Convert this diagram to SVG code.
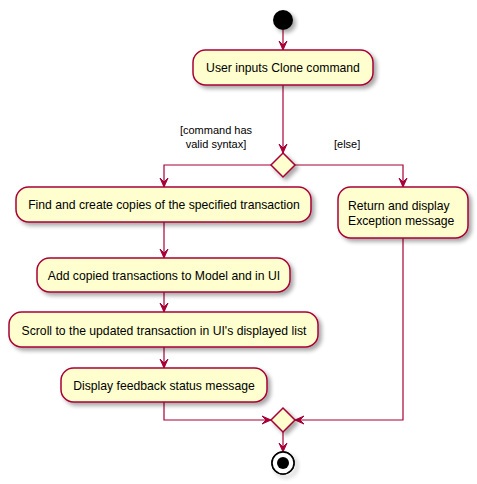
<svg xmlns="http://www.w3.org/2000/svg" width="477" height="484" viewBox="0 0 477 484">
<style>
.act{fill:#FEFECE;stroke:#A80036;stroke-width:1.5;filter:url(#sh)}
.t{font-family:"Liberation Sans",Arial,sans-serif;font-size:12.2px;fill:#000}
.lbl{font-family:"Liberation Sans",Arial,sans-serif;font-size:11px;fill:#000}
.c{fill:none;stroke:#A80036;stroke-width:1.2}
</style>
<defs>
<filter id="sh" x="-20%" y="-20%" width="150%" height="160%">
<feGaussianBlur in="SourceAlpha" stdDeviation="2"/>
<feOffset dx="3" dy="3" result="b"/>
<feComponentTransfer><feFuncA type="linear" slope="0.35"/></feComponentTransfer>
<feMerge><feMergeNode/><feMergeNode in="SourceGraphic"/></feMerge>
</filter>
<marker id="ah" viewBox="0 0 10 10" refX="9" refY="5" markerWidth="10" markerHeight="10" markerUnits="userSpaceOnUse" orient="auto">
<path d="M0,1 L9,5 L0,9 L4,5 Z" fill="#A80036" stroke="#A80036" stroke-width="1"/>
</marker>
</defs>
<g id="connectors">
<line class="c" x1="283" y1="30" x2="283" y2="50" marker-end="url(#ah)"/>
<line class="c" x1="283" y1="85" x2="283" y2="153" marker-end="url(#ah)"/>
<polyline class="c" points="271,165 164,165 164,187" marker-end="url(#ah)"/>
<polyline class="c" points="295,165 403,165 403,187" marker-end="url(#ah)"/>
<line class="c" x1="164" y1="222" x2="164" y2="258" marker-end="url(#ah)"/>
<line class="c" x1="164" y1="292" x2="164" y2="312" marker-end="url(#ah)"/>
<line class="c" x1="164" y1="347" x2="164" y2="368" marker-end="url(#ah)"/>
<polyline class="c" points="164,402 164,420 271,420" marker-end="url(#ah)"/>
<polyline class="c" points="403,238 403,420 295,420" marker-end="url(#ah)"/>
<line class="c" x1="283" y1="432" x2="283" y2="452" marker-end="url(#ah)"/>
<text class="lbl" x="216" y="134" text-anchor="middle">[command has</text>
<text class="lbl" x="216" y="148" text-anchor="middle">valid syntax]</text>
<text class="lbl" x="334" y="148">[else]</text>
</g>
<g id="start"><circle cx="283" cy="20" r="10" fill="#000" filter="url(#sh)"/></g>
<g id="userInputs"><rect class="act" x="193" y="50" width="180" height="35" rx="12.5"/><text class="t" x="283" y="72" text-anchor="middle">User inputs Clone command</text></g>
<g id="branch"><polygon class="act" points="283,153 295,165 283,177 271,165"/></g>
<g id="findCopies"><rect class="act" x="16" y="187" width="295" height="35" rx="12.5"/><text class="t" x="164" y="209" text-anchor="middle">Find and create copies of the specified transaction</text></g>
<g id="returnException"><rect class="act" x="338" y="187" width="130" height="51" rx="12.5"/><text class="t" x="348" y="210">Return and display</text><text class="t" x="348" y="225">Exception message</text></g>
<g id="addCopied"><rect class="act" x="37" y="258" width="253" height="34" rx="12.5"/><text class="t" x="164" y="280" text-anchor="middle">Add copied transactions to Model and in UI</text></g>
<g id="scroll"><rect class="act" x="9" y="312" width="309" height="35" rx="12.5"/><text class="t" x="164" y="335" text-anchor="middle">Scroll to the updated transaction in UI's displayed list</text></g>
<g id="display"><rect class="act" x="61" y="368" width="206" height="34" rx="12.5"/><text class="t" x="164" y="390" text-anchor="middle">Display feedback status message</text></g>
<g id="merge"><polygon class="act" points="283,408 295,420 283,432 271,420"/></g>
<g id="end"><circle cx="283" cy="463" r="11" fill="none" stroke="#000" stroke-width="1.5" filter="url(#sh)"/><circle cx="283" cy="463" r="11" fill="#fff" stroke="#000" stroke-width="1.5"/><circle cx="283" cy="463" r="6" fill="#000"/></g>
</svg>
